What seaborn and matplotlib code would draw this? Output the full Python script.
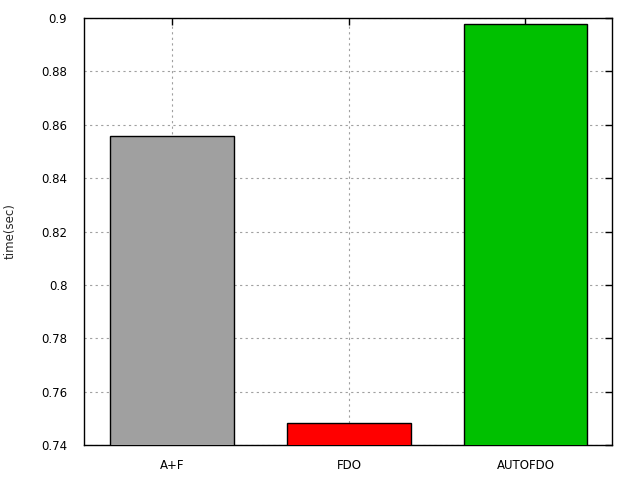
import matplotlib
matplotlib.use('Agg')
import matplotlib.pyplot as plt
import pandas as pd
import seaborn as sns

# bar chart data
builds = ['A+F', 'FDO', 'AUTOFDO']
times = [0.8556, 0.7483, 0.8977]
bar_colors = ['#a0a0a0', '#ff0000', '#00c000']
y_ticks = [0.74, 0.76, 0.78, 0.80, 0.82, 0.84, 0.86, 0.88, 0.90]
y_tick_labels = ['0.74', '0.76', '0.78', '0.8', '0.82', '0.84', '0.86', '0.88', '0.9']

df = pd.DataFrame({'build': builds, 'time': times})

sns.set_style('white')
plt.rcParams['font.family'] = ['DejaVu Sans']

fig = plt.figure(figsize=(6.4, 4.8), dpi=100)
ax = fig.add_axes([84/640, 1 - 445/480, (612 - 84)/640, (445 - 18)/480])

sns.barplot(data=df, x='build', y='time', hue='build', palette=bar_colors,
            legend=False, width=0.70, edgecolor='black', linewidth=1.0,
            saturation=1, ax=ax, zorder=3)

ax.set_ylim(0.74, 0.9)
ax.set_xlim(-0.5, 2.49)
ax.set_yticks(y_ticks)
ax.set_yticklabels(y_tick_labels)
ax.set_xlabel('')
ax.set_ylabel('time(sec)', fontsize=8.5)
ax.yaxis.set_label_coords(-0.127, 0.5)

ax.grid(True, linestyle=(0, (2, 3)), color='#a0a0a0', linewidth=0.8, zorder=0)
ax.set_axisbelow(True)
ax.tick_params(direction='in', length=5, width=1, top=True, right=True,
               labelsize=8.5, colors='black', pad=12)
ax.tick_params(axis='x', pad=10)
for s in ax.spines.values():
    s.set_visible(True)
    s.set_color('black')
    s.set_linewidth(1)

fig.savefig('out.png', dpi=100)
